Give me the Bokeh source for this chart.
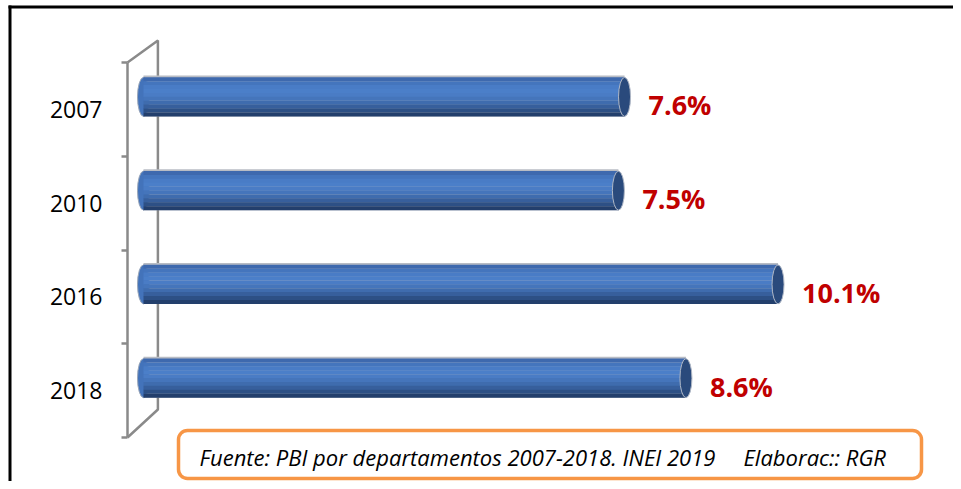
from bokeh.plotting import figure
from bokeh.models import Range1d, FixedTicker, LinearAxis, BoxAnnotation, Label, ColumnDataSource
from bokeh.core.properties import value
from bokeh.embed import file_html
from bokeh.resources import INLINE

# ---- data ----
years = ["2007", "2010", "2016", "2018"]
growth = [7.6, 7.5, 10.1, 8.6]
source_note = "Fuente: PBI por departamentos 2007-2018. INEI 2019"
author_note = "Elaborac:: RGR"

# ---- layout helpers (canvas pixel -> data) ----
W, H = 953, 481
PX0, PXU = 157.4, 61.4     # canvas x of value 0, px per unit
PY0, PYU = 437.0, 93.75    # canvas y of category bottom, px per category


def dx(px):
    return (px - PX0) / PXU


def dy(py):
    return (PY0 - py) / PYU


n = len(years)
pos = [n - i - 0.5 for i in range(n)]          # category centres
labels = [f"{v:.1f}%" for v in growth]

GRAY = "#8A8A8A"
p = figure(width=W, height=H, x_range=Range1d(dx(0), dx(W)),
           y_range=Range1d(dy(H), dy(0)),
           output_backend="svg", toolbar_location=None,
           x_axis_location=None, y_axis_location=None, min_border=0)
p.outline_line_color = None
p.background_fill_color = "white"
p.border_fill_color = "white"
p.xgrid.visible = False
p.ygrid.visible = False

# ---- outer frame (left & top) ----
p.segment(x0=[dx(9.5), dx(8)], y0=[dy(5), dy(6.5)],
          x1=[dx(9.5), dx(W)], y1=[dy(H), dy(6.5)],
          line_color="black", line_width=3)

# ---- 3D wall (back) ----
front_x = dx(127)
top_depth, bot_depth = 22 / PYU, 28 / PYU
p.line(x=[front_x, 0, 0, front_x], y=[n, n + top_depth, bot_depth, 0],
       line_color=GRAY, line_width=2.5)

# ---- axis (front wall line, boundary ticks, year labels) ----
yaxis = LinearAxis(fixed_location=front_x, bounds=(0, n))
yaxis.ticker = FixedTicker(ticks=pos, minor_ticks=list(range(n + 1)))
yaxis.major_label_overrides = {pp: yy for pp, yy in zip(pos, years)}
yaxis.major_tick_in = 0
yaxis.major_tick_out = 0
yaxis.minor_tick_in = 0
yaxis.minor_tick_out = 6
yaxis.minor_tick_line_color = GRAY
yaxis.minor_tick_line_width = 2.5
yaxis.axis_line_color = GRAY
yaxis.axis_line_width = 2.5
yaxis.major_label_standoff = 19
yaxis.major_label_text_font = "Open Sans"
yaxis.major_label_text_font_size = "23px"
yaxis.major_label_text_color = "black"
p.add_layout(yaxis, "left")

# ---- cylinder bars ----
shift = 12.5 / PYU
hb = 39 / PYU
yc = [c + shift for c in pos]
left = dx(143)
src = ColumnDataSource(dict(y=yc, right=growth, left=[left] * n))

# thin gray top edge
p.hbar(y=[c + 1 / PYU for c in yc], left=[left] * n, right=growth,
       height=hb + 2 / PYU, fill_color="#B8BCC4", line_color=None)
# rounded left end
p.ellipse(x="left", y="y", width=12, height=39, width_units="screen",
          height_units="screen", fill_color="#4373BA", line_color="#9AA6B8",
          line_width=1, source=src)
band_cols = ["#3E69AE", "#4475BD", "#497CC6", "#4B7FC9", "#4A7CC5",
             "#4575BB", "#3F6CAE", "#375F9C", "#2D5085", "#233F6C"]
nb = len(band_cols)
for k, col in enumerate(band_cols):
    yy = [c + hb / 2 - (k + 0.5) * hb / nb for c in yc]
    p.hbar(y=yy, left=[left] * n, right=growth, height=hb / nb + 0.002,
           fill_color=col, line_color=None)
# end cap
p.ellipse(x="right", y="y", width=12, height=39, width_units="screen",
          height_units="screen", fill_color="#2A4A7C", line_color="#B0B8C6",
          line_width=1, source=src)

# ---- value labels ----
p.text(x=growth, y=[c + 4.6 / PYU for c in pos], text=labels, x_offset=24,
       text_baseline="alphabetic", text_align="left",
       text_font=value("Open Sans"), text_font_style="bold",
       text_font_size="27px", text_color="#C00000")

# ---- footer box ----
p.add_layout(BoxAnnotation(left=dx(178), right=dx(921), top=dy(430), bottom=dy(478),
                           fill_color=None, fill_alpha=0, line_color="#F79646",
                           line_alpha=1.0, line_width=3.5, border_radius=9))
p.add_layout(Label(x=dx(199), y=dy(456), text=source_note, text_font="Open Sans",
                   text_font_style="italic", text_font_size="22px",
                   text_baseline="alphabetic", text_color="black"))
p.add_layout(Label(x=dx(743), y=dy(456), text=author_note, text_font="Open Sans",
                   text_font_style="italic", text_font_size="22px",
                   text_baseline="alphabetic", text_color="black"))

open("out.html", "w").write(file_html(p, INLINE))
